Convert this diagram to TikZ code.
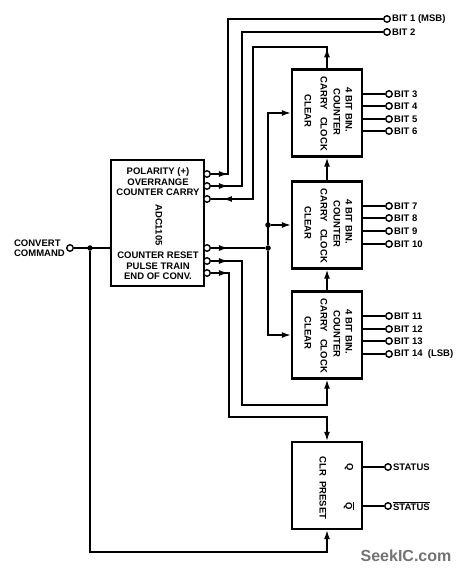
\documentclass[tikz,border=0pt]{standalone}
\usepackage{fontspec}
\setmainfont{Liberation Sans}
\usetikzlibrary{arrows.meta,decorations.markings}

\tikzset{
  blk/.style={draw, line width=2.4pt, minimum width=70pt, minimum height=87pt, inner sep=0pt},
  wire/.style={line width=1.4pt},
  tip/.style={-{Latex[length=9pt,width=6pt]}},
  pin/.style={circle, draw, line width=1.4pt, fill=white, minimum size=6.5pt, inner sep=0pt},
  dot/.style={circle, fill, minimum size=5.5pt, inner sep=0pt},
  lbl/.style={font=\bfseries\fontsize{9.5}{10.5}\selectfont, inner sep=1pt},
  vlbl/.style={lbl, rotate=-90},
  arrowat/.style={postaction={decorate, decoration={markings,
      mark=at position #1 with {\arrow{Latex[length=9pt,width=6pt]}}}}},
}

\begin{document}
\begin{tikzpicture}[x=1pt, y=-1pt]
  \useasboundingbox (0,0) rectangle (460,573);

  % blocks
  \node[blk, minimum width=93pt, minimum height=126pt] (adc) at (157.5,223) {};
  \node[blk] (cntA) at (327,113) {};
  \node[blk] (cntB) at (327,225) {};
  \node[blk] (cntC) at (327,335) {};
  \node[blk] (ff) at (327,485.5) {};

  % converter texts
  \node[lbl, align=center] (adcTop) at (158,182) {POLARITY (+)\\OVERRANGE\\COUNTER CARRY};
  \node[lbl, align=center] (adcBot) at (158,266) {COUNTER RESET\\PULSE TRAIN\\END OF CONV.};
  \node[vlbl] (adcName) at (159,225) {ADC1105};

  % counter texts
  \foreach \n in {cntA,cntB,cntC}{
    \node[vlbl] at ([shift={(22,-3)}]\n.center) {4 BIT BIN.};
    \node[vlbl] at ([shift={(10,-1)}]\n.center) {COUNTER};
    \node[vlbl] at ([shift={(-3,-19.5)}]\n.center) {CARRY};
    \node[vlbl] at ([shift={(-3,21)}]\n.center) {CLOCK};
    \node[vlbl] at ([shift={(-19,-2)}]\n.center) {CLEAR};
  }

  % flip-flop texts
  \node[vlbl] (qOut) at (349,467) {Q};
  \node[vlbl] (qbOut) at (349,506) {$\overline{\hbox{Q}}$};
  \node[vlbl] (ffName) at (323,488) {CLR\ \ PRESET};

  % converter pins
  \foreach \p/\y in {pPol/174, pOvr/186, pCar/199, pRst/248, pPul/261, pEoc/273}
    \node[pin] (\p) at (207,\y) {};

  % bit outputs
  \node[pin, label={[lbl]right:BIT 1 (MSB)}] (b1) at (387,19) {};
  \node[pin, label={[lbl]right:BIT 2}] (b2) at (387,32) {};
  \foreach \b/\y/\t in {3/94/BIT 3, 4/106/BIT 4, 5/119/BIT 5, 6/131/BIT 6,
      7/206/BIT 7, 8/218/BIT 8, 9/231/BIT 9, 10/244/BIT 10,
      11/316/BIT 11, 12/329/BIT 12, 13/341/BIT 13, 14/354/BIT 14\ \ (LSB)}{
    \node[pin, label={[lbl]right:\t}] (b\b) at (389,\y) {};
    \draw[wire] (cntA.east |- b\b.west) -- (b\b.west);
  }

  % status outputs
  \node[pin, label={[lbl]right:STATUS}] (sQ) at (388,467) {};
  \node[pin, label={[lbl]right:$\overline{\hbox{STATUS}}$}] (sQb) at (388,506) {};
  \draw[wire] (ff.east |- sQ.west) -- (sQ.west);
  \draw[wire] (ff.east |- sQb.west) -- (sQb.west);

  % bits 1 and 2
  \coordinate (cB1) at (228,19);
  \coordinate (cB2) at (242,32);
  \draw[wire, arrowat=17pt] (pPol.east) -| (cB1) -- (b1.west);
  \draw[wire, arrowat=17pt] (pOvr.east) -| (cB2) -- (b2.west);

  % carry back to converter
  \coordinate (cCyT) at (327,47);
  \coordinate (cCy) at (253,199);
  \draw[wire, arrowat=20pt, arrowat=-12pt] (cntA.north) -- (cCyT) -| (cCy) -- (pCar.east);

  % counter reset to clear inputs
  \node[dot] (jR) at (268,248) {};
  \node[dot] (jB) at (jR |- cntB.west) {};
  \draw[wire, arrowat=17pt] (pRst.east) -- (jR);
  \draw[wire, tip] (jR) |- (cntA.west);
  \draw[wire, tip] (jR) |- (cntC.west);
  \draw[wire, tip] (jB) -- (cntB.west);

  % carry chain
  \draw[wire, tip] (cntB.north) -- (cntA.south);
  \draw[wire, tip] (cntC.north) -- (cntB.south);

  % pulse train and end of conversion
  \coordinate (cPu) at (242,405);
  \coordinate (cEo) at (229,417);
  \draw[wire, arrowat=17pt, tip] (pPul.east) -| (cPu) -| (cntC.south);
  \draw[wire, arrowat=17pt, tip] (pEoc.east) -| (cEo) -| (ff.north);

  % convert command
  \node[pin] (cmd) at (70,248) {};
  \node[lbl, align=left, anchor=east] (cmdTxt) at (66,248) {CONVERT\\COMMAND};
  \node[dot] (jC) at (90,248) {};
  \coordinate (cCv) at (90,552);
  \draw[wire] (cmd.east) -- (cmd -| adc.west);
  \draw[wire, tip] (jC) -- (cCv) -| (ff.south);

  \node[font=\bfseries\fontsize{16}{16}\selectfont, text=black!55] (mark) at (406,556) {SeekIC.com};
\end{tikzpicture}
\end{document}
